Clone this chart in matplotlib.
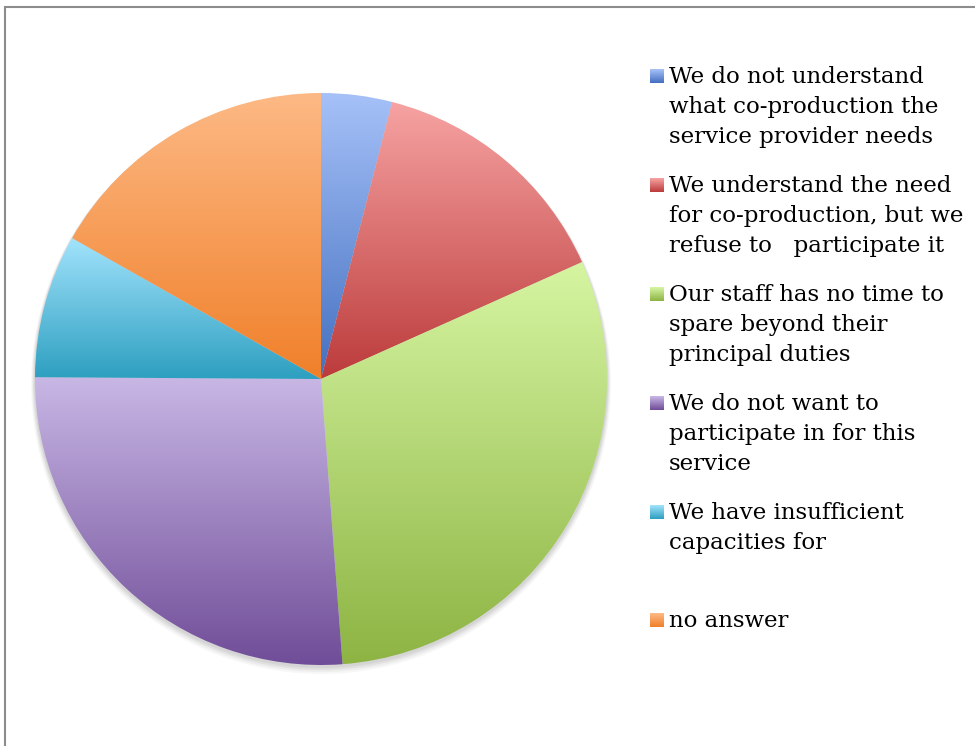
import matplotlib
matplotlib.use("Agg")
import matplotlib.pyplot as plt
import numpy as np
from matplotlib.colors import to_rgb
from matplotlib.patches import Rectangle, Circle

# shares (percent)
labels = [
    "We do not understand\nwhat co-production the\nservice provider needs",
    "We understand the need\nfor co-production, but we\nrefuse to   participate it",
    "Our staff has no time to\nspare beyond their\nprincipal duties",
    "We do not want to\nparticipate in for this\nservice",
    "We have insufficient\ncapacities for",
    "no answer",
]
shares = [4, 14.3, 30.5, 26.3, 8.1, 16.8]

# gradient colours: light at the top of each slice, dark at the bottom
top_colors = ["#a6c1f8", "#f7a3a3", "#d6f5a2", "#c8b7e5", "#a2e3fc", "#fdb985"]
bottom_colors = ["#4470c0", "#bc3b3b", "#8db443", "#704d98", "#2d9fc0", "#f0802a"]

W, H = 975, 746
fig = plt.figure(figsize=(W / 100, H / 100), dpi=100)
fig.patch.set_facecolor("white")
ax = fig.add_axes([0, 0, 1, 1])
ax.set_xlim(0, W)
ax.set_ylim(0, H)
ax.set_aspect("equal")
ax.axis("off")

CX, CY, R = 321, H - 379, 286


def gradient(top, bottom, n=256):
    t = np.linspace(0, 1, n)[:, None]
    a, b = np.array(to_rgb(bottom)), np.array(to_rgb(top))
    return (a[None, :] * (1 - t) + b[None, :] * t)[:, None, :]


# soft shadow under the pie
for i, a in enumerate([0.05, 0.05, 0.04, 0.03]):
    ax.add_patch(Circle((CX, CY - 2 - i), R + 1 + i, color="black", alpha=a, lw=0, zorder=0))

wedges, _ = ax.pie(shares, startangle=90, counterclock=False, center=(CX, CY), radius=R,
                   wedgeprops=dict(linewidth=0))
for w, c1, c2 in zip(wedges, top_colors, bottom_colors):
    bb = w.get_path().get_extents()
    w.set_facecolor("none")
    im = ax.imshow(gradient(c1, c2), extent=(bb.x0, bb.x1, bb.y0, bb.y1), origin="lower",
                   aspect="auto", interpolation="bilinear", zorder=1)
    im.set_clip_path(w)
ax.set_xlim(0, W)
ax.set_ylim(0, H)

# legend
entry_y = [76, 185, 294, 403, 512, 620]
for lab, y, c1, c2 in zip(labels, entry_y, top_colors, bottom_colors):
    yy = H - y
    sq = Rectangle((650, yy - 7), 14, 14, facecolor="none", lw=0)
    ax.add_patch(sq)
    im = ax.imshow(gradient(c1, c2, 32), extent=(650, 664, yy - 7, yy + 7), origin="lower",
                   aspect="auto", zorder=2)
    im.set_clip_path(sq)
    ax.text(669, yy + 10, lab, fontsize=16.5, family="DejaVu Serif", color="#000000",
            va="top", ha="left", linespacing=1.47)

# outer frame
fig.add_artist(Rectangle((5 / W, -0.1), 1.2, 1 - 7 / H + 0.1, transform=fig.transFigure,
                         fill=False, edgecolor="#8c8c8c", lw=1.5))

fig.savefig("out.png", dpi=100)
